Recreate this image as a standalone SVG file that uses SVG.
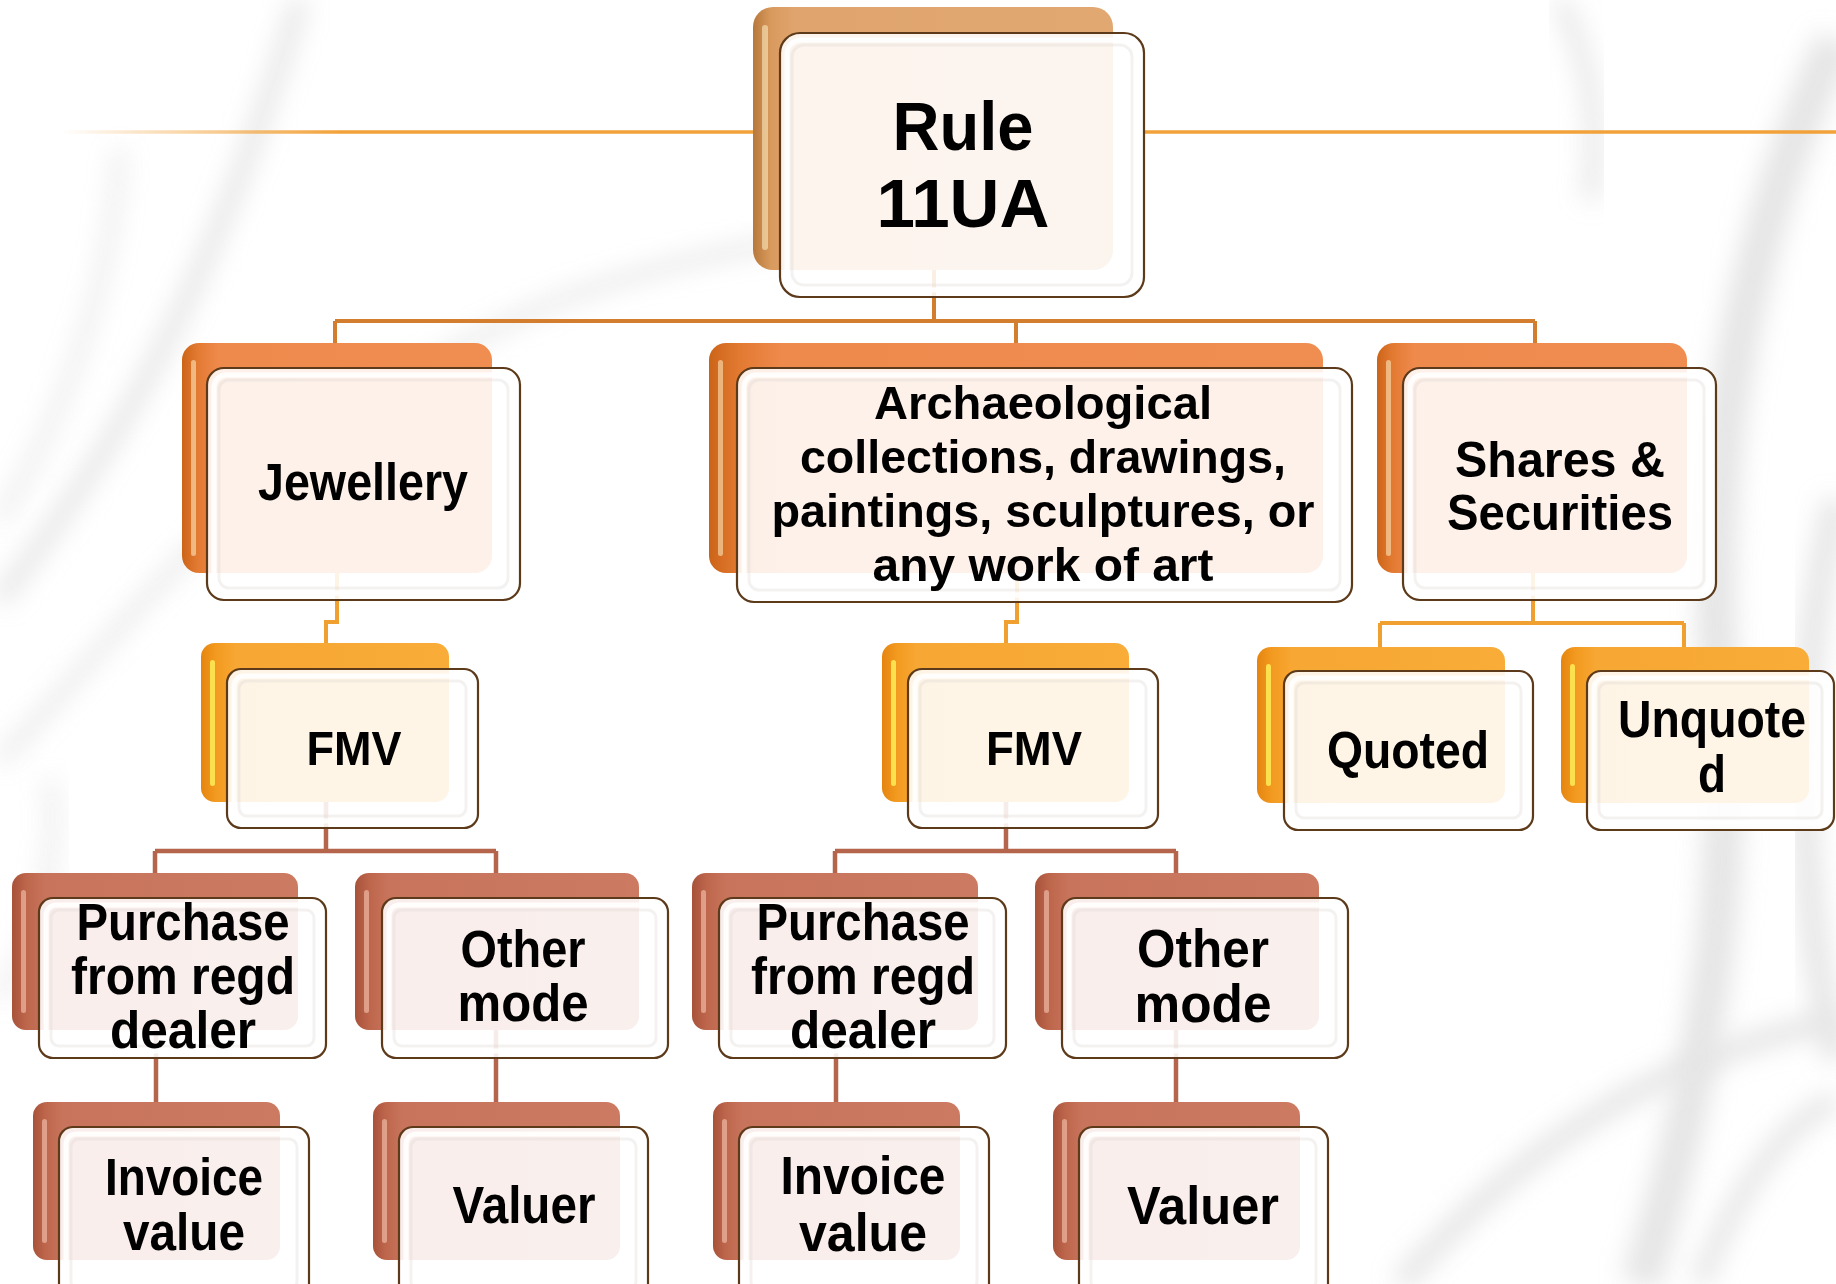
<svg xmlns="http://www.w3.org/2000/svg" width="1836" height="1284" viewBox="0 0 1836 1284">
<defs>
  <filter id="blur" x="-30%" y="-30%" width="160%" height="160%"><feGaussianBlur stdDeviation="12"/></filter>
  <linearGradient id="gRoot" x1="0" y1="0" x2="1" y2="0">
    <stop offset="0" stop-color="#B8783C"/><stop offset="0.05" stop-color="#D99A5E"/><stop offset="0.12" stop-color="#E0A56E"/><stop offset="1" stop-color="#E2A872"/>
  </linearGradient>
  <linearGradient id="gOrange" x1="0" y1="0" x2="1" y2="0">
    <stop offset="0" stop-color="#CC6418"/><stop offset="0.05" stop-color="#E37A32"/><stop offset="0.12" stop-color="#EF8A4D"/><stop offset="1" stop-color="#F08D50"/>
  </linearGradient>
  <linearGradient id="gGold" x1="0" y1="0" x2="1" y2="0">
    <stop offset="0" stop-color="#E58510"/><stop offset="0.06" stop-color="#F39A20"/><stop offset="0.14" stop-color="#F7A733"/><stop offset="1" stop-color="#F9AC38"/>
  </linearGradient>
  <linearGradient id="gBrown" x1="0" y1="0" x2="1" y2="0">
    <stop offset="0" stop-color="#A8523A"/><stop offset="0.05" stop-color="#BD664C"/><stop offset="0.12" stop-color="#C8745C"/><stop offset="1" stop-color="#CC7A62"/>
  </linearGradient>
  <linearGradient id="gLine" x1="61" y1="0" x2="340" y2="0" gradientUnits="userSpaceOnUse">
    <stop offset="0" stop-color="#F2A23A" stop-opacity="0"/><stop offset="1" stop-color="#F2A23A"/>
  </linearGradient>
</defs>
<style>
  .bk-root{fill:url(#gRoot)}
  .bk-o{fill:url(#gOrange)}
  .bk-y{fill:url(#gGold)}
  .bk-b{fill:url(#gBrown)}
  .hl{fill:#FFF0C8;opacity:.55}
  .hl-y{fill:#FFF35A;opacity:.8}
  .hl-b{fill:#F6C6B2;opacity:.6}
  .fr{fill:#FFFFFF;fill-opacity:.88;stroke:#5C3A1A;stroke-width:2.2}
  .bv{fill:none;stroke:#FFFFFF;stroke-width:5;opacity:.9}
  .bv2{fill:none;stroke:#DAD5D1;stroke-width:3;opacity:.3}
  .t{font-family:"Liberation Sans",Arial,sans-serif;font-weight:bold;fill:#000;text-anchor:middle}
  .c-top{fill:none;stroke:#D27E2E;stroke-width:4}
  .c-gold{fill:none;stroke:#F0A030;stroke-width:4}
  .c-brown{fill:none;stroke:#B4654C;stroke-width:4.5}
  .swirl{fill:none;stroke:#D0D0D0;filter:url(#blur)}
</style>
<rect x="0" y="0" width="1836" height="1284" fill="#FFFFFF"/>
<g id="background" opacity="0.55">
  <path class="swirl" d="M0,600 C90,480 200,330 300,0" stroke-width="18"/>
  <path class="swirl" d="M0,760 C120,640 260,420 560,300 C700,250 800,240 820,240" stroke-width="12"/>
  <path class="swirl" d="M0,520 C60,420 110,300 120,150" stroke-width="10"/>
  <path class="swirl" d="M0,1000 C40,930 60,860 50,780" stroke-width="10"/>
  <path class="swirl" d="M1836,40 C1760,200 1700,420 1720,700 C1735,900 1700,1100 1640,1284" stroke-width="40"/>
  <path class="swirl" d="M1836,500 C1790,700 1800,900 1836,1060" stroke-width="26"/>
  <path class="swirl" d="M1400,1284 C1520,1150 1650,1060 1836,1020" stroke-width="22"/>
  <path class="swirl" d="M1560,0 C1590,60 1600,120 1590,200" stroke-width="16"/>
  <path class="swirl" d="M1700,1284 C1740,1180 1790,1120 1836,1100" stroke-width="20"/>
</g>
<g id="decor">
  <path d="M61,132 H753" stroke="url(#gLine)" stroke-width="3.5" fill="none"/>
  <path d="M1144,132 H1836" stroke="#F2A23A" stroke-width="3.5" fill="none"/>
</g>
<g id="connectors">
  <path class="c-top" d="M934,270 V321 M335,321 H1535 M335,321 V343 M1016,321 V343 M1535,321 V343"/>
  <path class="c-gold" d="M337,573 V622 H326 V643 M1017,573 V622 H1006 V643"/>
  <path class="c-gold" d="M1533,573 V623 M1380,623 H1684 M1380,623 V647 M1684,623 V647"/>
  <path class="c-brown" d="M326,802 V851 M155,851 H496 M155,851 V873 M496,851 V873"/>
  <path class="c-brown" d="M1006,802 V851 M835,851 H1176 M835,851 V873 M1176,851 V873"/>
  <path class="c-brown" d="M156,1030 V1102 M496,1030 V1102 M836,1030 V1102 M1176,1030 V1102"/>
</g>
<g id="n-root">
  <rect class="bk-root" x="753" y="7" width="360" height="263" rx="20"/>
  <rect class="hl" x="762" y="25" width="6" height="225" rx="3"/>
  <rect class="fr" x="780" y="33" width="364" height="264" rx="20"/>
  <rect class="bv" x="787" y="40" width="350" height="250" rx="14"/>
  <rect class="bv2" x="792" y="45" width="340" height="240" rx="12"/>
  <text class="t" x="963" y="150" font-size="68" textLength="141" lengthAdjust="spacingAndGlyphs">Rule</text>
  <text class="t" x="963" y="227" font-size="68" textLength="173" lengthAdjust="spacingAndGlyphs">11UA</text>
</g>
<g id="n-jewellery">
  <rect class="bk-o" x="182" y="343" width="310" height="230" rx="17"/>
  <rect class="hl" x="191" y="360" width="5" height="196" rx="2.5"/>
  <rect class="fr" x="207" y="368" width="313" height="232" rx="17"/>
  <rect class="bv" x="214" y="375" width="299" height="218" rx="12"/>
  <rect class="bv2" x="219" y="380" width="289" height="208" rx="10"/>
  <text class="t" x="363" y="500" font-size="51" textLength="210" lengthAdjust="spacingAndGlyphs">Jewellery</text>
</g>
<g id="n-art">
  <rect class="bk-o" x="709" y="343" width="614" height="230" rx="17"/>
  <rect class="hl" x="718" y="360" width="5" height="196" rx="2.5"/>
  <rect class="fr" x="737" y="368" width="615" height="234" rx="17"/>
  <rect class="bv" x="744" y="375" width="601" height="220" rx="12"/>
  <rect class="bv2" x="749" y="380" width="591" height="210" rx="10"/>
  <text class="t" x="1043" y="419" font-size="47" textLength="338" lengthAdjust="spacingAndGlyphs">Archaeological</text>
  <text class="t" x="1043" y="473" font-size="47" textLength="486" lengthAdjust="spacingAndGlyphs">collections, drawings,</text>
  <text class="t" x="1043" y="527" font-size="47" textLength="543" lengthAdjust="spacingAndGlyphs">paintings, sculptures, or</text>
  <text class="t" x="1043" y="581" font-size="47" textLength="341" lengthAdjust="spacingAndGlyphs">any work of art</text>
</g>
<g id="n-shares">
  <rect class="bk-o" x="1377" y="343" width="310" height="230" rx="17"/>
  <rect class="hl" x="1386" y="360" width="5" height="196" rx="2.5"/>
  <rect class="fr" x="1403" y="368" width="313" height="232" rx="17"/>
  <rect class="bv" x="1410" y="375" width="299" height="218" rx="12"/>
  <rect class="bv2" x="1415" y="380" width="289" height="208" rx="10"/>
  <text class="t" x="1560" y="477" font-size="50" textLength="210" lengthAdjust="spacingAndGlyphs">Shares &amp;</text>
  <text class="t" x="1560" y="530" font-size="50" textLength="226" lengthAdjust="spacingAndGlyphs">Securities</text>
</g>
<g id="n-fmv-jewellery">
  <rect class="bk-y" x="201" y="643" width="248" height="159" rx="14"/>
  <rect class="hl-y" x="210" y="660" width="5" height="126" rx="2.5"/>
  <rect class="fr" x="227" y="669" width="251" height="159" rx="14"/>
  <rect class="bv" x="234" y="676" width="237" height="145" rx="10"/>
  <rect class="bv2" x="239" y="681" width="227" height="135" rx="8"/>
  <text class="t" x="354" y="765" font-size="49" textLength="95" lengthAdjust="spacingAndGlyphs">FMV</text>
</g>
<g id="n-fmv-art">
  <rect class="bk-y" x="882" y="643" width="247" height="159" rx="14"/>
  <rect class="hl-y" x="891" y="660" width="5" height="126" rx="2.5"/>
  <rect class="fr" x="908" y="669" width="250" height="159" rx="14"/>
  <rect class="bv" x="915" y="676" width="236" height="145" rx="10"/>
  <rect class="bv2" x="920" y="681" width="226" height="135" rx="8"/>
  <text class="t" x="1034" y="765" font-size="49" textLength="96" lengthAdjust="spacingAndGlyphs">FMV</text>
</g>
<g id="n-quoted">
  <rect class="bk-y" x="1257" y="647" width="248" height="156" rx="14"/>
  <rect class="hl-y" x="1266" y="664" width="5" height="122" rx="2.5"/>
  <rect class="fr" x="1284" y="671" width="249" height="159" rx="14"/>
  <rect class="bv" x="1291" y="678" width="235" height="145" rx="10"/>
  <rect class="bv2" x="1296" y="683" width="225" height="135" rx="8"/>
  <text class="t" x="1408" y="768" font-size="52" textLength="162" lengthAdjust="spacingAndGlyphs">Quoted</text>
</g>
<g id="n-unquoted">
  <rect class="bk-y" x="1561" y="647" width="248" height="156" rx="14"/>
  <rect class="hl-y" x="1570" y="664" width="5" height="122" rx="2.5"/>
  <rect class="fr" x="1587" y="671" width="247" height="159" rx="14"/>
  <rect class="bv" x="1594" y="678" width="233" height="145" rx="10"/>
  <rect class="bv2" x="1599" y="683" width="223" height="135" rx="8"/>
  <text class="t" x="1712" y="737" font-size="51" textLength="188" lengthAdjust="spacingAndGlyphs">Unquote</text>
  <text class="t" x="1712" y="792" font-size="51" textLength="28" lengthAdjust="spacingAndGlyphs">d</text>
</g>
<g id="n-purchase-jewellery">
  <rect class="bk-b" x="12" y="873" width="286" height="157" rx="14"/>
  <rect class="hl-b" x="21" y="890" width="5" height="123" rx="2.5"/>
  <rect class="fr" x="39" y="898" width="287" height="160" rx="14"/>
  <rect class="bv" x="46" y="905" width="273" height="146" rx="10"/>
  <rect class="bv2" x="51" y="910" width="263" height="136" rx="8"/>
  <text class="t" x="183" y="940" font-size="51" textLength="213" lengthAdjust="spacingAndGlyphs">Purchase</text>
  <text class="t" x="183" y="994" font-size="51" textLength="224" lengthAdjust="spacingAndGlyphs">from regd</text>
  <text class="t" x="183" y="1048" font-size="51" textLength="146" lengthAdjust="spacingAndGlyphs">dealer</text>
</g>
<g id="n-other-jewellery">
  <rect class="bk-b" x="355" y="873" width="284" height="157" rx="14"/>
  <rect class="hl-b" x="364" y="890" width="5" height="123" rx="2.5"/>
  <rect class="fr" x="382" y="898" width="286" height="160" rx="14"/>
  <rect class="bv" x="389" y="905" width="272" height="146" rx="10"/>
  <rect class="bv2" x="394" y="910" width="262" height="136" rx="8"/>
  <text class="t" x="523" y="967" font-size="51" textLength="125" lengthAdjust="spacingAndGlyphs">Other</text>
  <text class="t" x="523" y="1021" font-size="51" textLength="131" lengthAdjust="spacingAndGlyphs">mode</text>
</g>
<g id="n-invoice-jewellery">
  <rect class="bk-b" x="33" y="1102" width="247" height="158" rx="14"/>
  <rect class="hl-b" x="42" y="1119" width="5" height="124" rx="2.5"/>
  <rect class="fr" x="59" y="1127" width="250" height="175" rx="14"/>
  <rect class="bv" x="66" y="1134" width="236" height="161" rx="10"/>
  <rect class="bv2" x="71" y="1139" width="226" height="151" rx="8"/>
  <text class="t" x="184" y="1195" font-size="51" textLength="158" lengthAdjust="spacingAndGlyphs">Invoice</text>
  <text class="t" x="184" y="1250" font-size="51" textLength="122" lengthAdjust="spacingAndGlyphs">value</text>
</g>
<g id="n-valuer-jewellery">
  <rect class="bk-b" x="373" y="1102" width="247" height="158" rx="14"/>
  <rect class="hl-b" x="382" y="1119" width="5" height="124" rx="2.5"/>
  <rect class="fr" x="399" y="1127" width="249" height="175" rx="14"/>
  <rect class="bv" x="406" y="1134" width="235" height="161" rx="10"/>
  <rect class="bv2" x="411" y="1139" width="225" height="151" rx="8"/>
  <text class="t" x="524" y="1223" font-size="51" textLength="143" lengthAdjust="spacingAndGlyphs">Valuer</text>
</g>
<g id="n-purchase-art">
  <rect class="bk-b" x="692" y="873" width="286" height="157" rx="14"/>
  <rect class="hl-b" x="701" y="890" width="5" height="123" rx="2.5"/>
  <rect class="fr" x="719" y="898" width="287" height="160" rx="14"/>
  <rect class="bv" x="726" y="905" width="273" height="146" rx="10"/>
  <rect class="bv2" x="731" y="910" width="263" height="136" rx="8"/>
  <text class="t" x="863" y="940" font-size="51" textLength="213" lengthAdjust="spacingAndGlyphs">Purchase</text>
  <text class="t" x="863" y="994" font-size="51" textLength="224" lengthAdjust="spacingAndGlyphs">from regd</text>
  <text class="t" x="863" y="1048" font-size="51" textLength="146" lengthAdjust="spacingAndGlyphs">dealer</text>
</g>
<g id="n-other-art">
  <rect class="bk-b" x="1035" y="873" width="284" height="157" rx="14"/>
  <rect class="hl-b" x="1044" y="890" width="5" height="123" rx="2.5"/>
  <rect class="fr" x="1062" y="898" width="286" height="160" rx="14"/>
  <rect class="bv" x="1069" y="905" width="272" height="146" rx="10"/>
  <rect class="bv2" x="1074" y="910" width="262" height="136" rx="8"/>
  <text class="t" x="1203" y="967" font-size="53" textLength="132" lengthAdjust="spacingAndGlyphs">Other</text>
  <text class="t" x="1203" y="1022" font-size="53" textLength="137" lengthAdjust="spacingAndGlyphs">mode</text>
</g>
<g id="n-invoice-art">
  <rect class="bk-b" x="713" y="1102" width="247" height="158" rx="14"/>
  <rect class="hl-b" x="722" y="1119" width="5" height="124" rx="2.5"/>
  <rect class="fr" x="739" y="1127" width="250" height="175" rx="14"/>
  <rect class="bv" x="746" y="1134" width="236" height="161" rx="10"/>
  <rect class="bv2" x="751" y="1139" width="226" height="151" rx="8"/>
  <text class="t" x="863" y="1194" font-size="53" textLength="165" lengthAdjust="spacingAndGlyphs">Invoice</text>
  <text class="t" x="863" y="1251" font-size="53" textLength="128" lengthAdjust="spacingAndGlyphs">value</text>
</g>
<g id="n-valuer-art">
  <rect class="bk-b" x="1053" y="1102" width="247" height="158" rx="14"/>
  <rect class="hl-b" x="1062" y="1119" width="5" height="124" rx="2.5"/>
  <rect class="fr" x="1079" y="1127" width="249" height="175" rx="14"/>
  <rect class="bv" x="1086" y="1134" width="235" height="161" rx="10"/>
  <rect class="bv2" x="1091" y="1139" width="225" height="151" rx="8"/>
  <text class="t" x="1203" y="1224" font-size="53" textLength="152" lengthAdjust="spacingAndGlyphs">Valuer</text>
</g>
</svg>
